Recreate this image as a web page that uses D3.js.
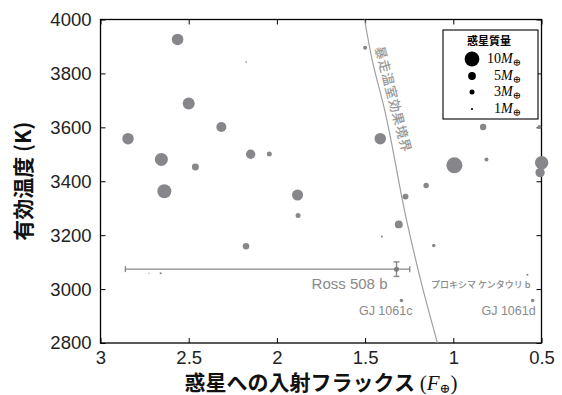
<!DOCTYPE html>
<html>
<head>
<meta charset="utf-8">
<script src="https://cdn.jsdelivr.net/npm/d3@7"></script>
<style>
  html, body { margin: 0; padding: 0; background: #fff; }
  svg { display: block; }
</style>
</head>
<body>
<div id="chart"></div>
<script>
// Planet data
const flux = [2.563, 2.174, 1.50, 2.50, 2.315, 2.844, 2.655, 2.462, 2.149, 2.043,
              2.638, 1.883, 1.880, 1.414, 0.831, 0.512, 0.994, 0.812, 0.499, 0.508,
              1.154, 1.271, 1.309, 1.405, 1.111, 2.175, 2.725, 2.659, 0.580, 1.294, 0.550];
const teff = [3926, 3842, 3895, 3688, 3601, 3558, 3481, 3453, 3500, 3501,
              3363, 3349, 3273, 3558, 3601, 3601, 3459, 3481, 3469, 3432,
              3384, 3343, 3240, 3195, 3162, 3159, 3059, 3059, 3053, 2958, 2958];
const mass = [7.7, 0.6, 2.3, 8.0, 6.6, 7.6, 8.7, 4.4, 6.1, 3.0,
              9.4, 7.3, 3.0, 7.6, 4.0, 2.3, 10.9, 2.3, 9.0, 6.1,
              3.3, 3.7, 5.1, 0.9, 1.9, 4.1, 0.3, 0.9, 0.9, 1.9, 1.9];

// Ross 508 b with error bars
const ross = { flux: 1.322, fluxLo: 2.859, fluxHi: 1.247, teff: 3074, teffErr: 27, mass: 3.0 };

// Runaway greenhouse boundary
const boundaryFlux = [1.503, 1.46, 1.39, 1.266, 1.18, 1.09];
const boundaryTeff = [4000, 3850, 3667, 3259, 3020, 2800];

const xTicks = [3, 2.5, 2, 1.5, 1, 0.5];
const yTicks = [2800, 3000, 3200, 3400, 3600, 3800, 4000];
const legendMass = [10, 5, 3, 1];

const labels = [
  { text: 'Ross 508 b', flux: 1.322, teff: 3074, dx: -9, dy: 20, size: 15 },
  { text: 'GJ 1061c', flux: 1.294, teff: 2958, dx: 11, dy: 15, size: 12.5 },
  { text: 'GJ 1061d', flux: 0.550, teff: 2958, dx: 3, dy: 15, size: 12.5 },
  { text: 'プロキシマ ケンタウリ b', flux: 0.580, teff: 3053, dx: 3, dy: 13, size: 9 }
];

const W = 562, H = 395;
const plotLeft = 100.5, plotRight = 541.5, plotTop = 19.5, plotBottom = 343;
const POINT = '#87878b';
const ANNOT = '#8a8a8a';

const svg = d3.select('#chart').append('svg')
  .attr('width', W).attr('height', H);

const x = d3.scaleLinear().domain([3, 0.5]).range([plotLeft, plotRight]);
const y = d3.scaleLinear().domain([2800, 4000]).range([plotBottom, plotTop]);
const r = d3.scaleLinear().domain([0, 10]).range([0.4, 7.4]);

// Axes with inward ticks on all four sides
const tickFont = '"Liberation Sans", Arial, sans-serif';
const cjk = '"Noto Sans CJK JP", sans-serif';
function styleAxis(g) {
  g.select('.domain').remove();
  g.selectAll('line').attr('stroke', '#000').attr('stroke-width', 1);
}
svg.append('g').attr('transform', `translate(0,${plotBottom})`)
  .call(d3.axisBottom(x).tickValues(xTicks).tickSizeInner(-5).tickSizeOuter(0).tickPadding(8).tickFormat(d3.format('')))
  .call(styleAxis)
  .selectAll('text').attr('font-size', '18.5px').attr('font-family', tickFont).attr('fill', '#222');
svg.append('g').attr('transform', `translate(0,${plotTop})`)
  .call(d3.axisTop(x).tickValues(xTicks).tickSizeInner(-5).tickSizeOuter(0).tickFormat(''))
  .call(styleAxis);
svg.append('g').attr('transform', `translate(${plotLeft},0)`)
  .call(d3.axisLeft(y).tickValues(yTicks).tickSizeInner(-5).tickSizeOuter(0).tickPadding(9).tickFormat(d3.format('d')))
  .call(styleAxis)
  .selectAll('text').attr('font-size', '18.5px').attr('font-family', tickFont).attr('fill', '#222');
svg.append('g').attr('transform', `translate(${plotRight},0)`)
  .call(d3.axisRight(y).tickValues(yTicks).tickSizeInner(-5).tickSizeOuter(0).tickFormat(''))
  .call(styleAxis);

svg.append('rect')
  .attr('x', plotLeft).attr('y', plotTop)
  .attr('width', plotRight - plotLeft).attr('height', plotBottom - plotTop)
  .attr('fill', 'none').attr('stroke', '#000').attr('stroke-width', 1.3);

// Boundary line
const bpts = boundaryFlux.map((f, i) => [f, boundaryTeff[i]]);
svg.append('path')
  .datum(bpts)
  .attr('fill', 'none')
  .attr('stroke', '#a0a0a0')
  .attr('stroke-width', 1.2)
  .attr('d', d3.line().x(d => x(d[0])).y(d => y(d[1])).curve(d3.curveMonotoneY));

// Boundary label, rotated along the line
const p0 = [x(boundaryFlux[0]), y(boundaryTeff[0])];
const p1 = [x(boundaryFlux[boundaryFlux.length - 1]), y(boundaryTeff[boundaryTeff.length - 1])];
const ang = Math.atan2(p1[1] - p0[1], p1[0] - p0[0]) * 180 / Math.PI - 2;
const lx = x(1.468) + 4, ly = y(3895);
svg.append('text')
  .attr('transform', `translate(${lx},${ly}) rotate(${ang})`)
  .attr('font-family', cjk)
  .attr('font-size', '13px')
  .attr('font-weight', 500)
  .attr('letter-spacing', '0.6px')
  .attr('fill', '#999')
  .text('暴走温室効果境界');

// Planets
svg.append('g').selectAll('circle')
  .data(flux.map((f, i) => ({ f, t: teff[i], m: mass[i] })))
  .join('circle')
  .attr('cx', d => x(d.f))
  .attr('cy', d => y(d.t))
  .attr('r', d => r(d.m))
  .attr('fill', POINT);

// Ross 508 b with error bars
const eb = svg.append('g').attr('stroke', '#8a8a8a').attr('stroke-width', 1.4);
eb.append('line')
  .attr('x1', x(ross.fluxLo)).attr('x2', x(ross.fluxHi))
  .attr('y1', y(ross.teff)).attr('y2', y(ross.teff));
eb.append('line')
  .attr('x1', x(ross.flux)).attr('x2', x(ross.flux))
  .attr('y1', y(ross.teff - ross.teffErr)).attr('y2', y(ross.teff + ross.teffErr));
[ross.fluxLo, ross.fluxHi].forEach(f => {
  eb.append('line')
    .attr('x1', x(f)).attr('x2', x(f))
    .attr('y1', y(ross.teff) - 3).attr('y2', y(ross.teff) + 3);
});
[ross.teff - ross.teffErr, ross.teff + ross.teffErr].forEach(t => {
  eb.append('line')
    .attr('x1', x(ross.flux) - 3).attr('x2', x(ross.flux) + 3)
    .attr('y1', y(t)).attr('y2', y(t));
});
svg.append('circle')
  .attr('cx', x(ross.flux)).attr('cy', y(ross.teff))
  .attr('r', r(ross.mass)).attr('fill', '#7d7d7d');

// Planet labels
labels.forEach(l => {
  const jp = l.text.startsWith('プ');
  svg.append('text')
    .attr('x', x(l.flux) + l.dx)
    .attr('y', y(l.teff) + l.dy)
    .attr('text-anchor', 'end')
    .attr('font-family', jp ? cjk : tickFont)
    .attr('font-weight', jp ? 500 : 400)
    .attr('font-size', l.size + 'px')
    .attr('fill', ANNOT)
    .text(l.text);
});

// Legend
const legend = svg.append('g');
legend.append('rect')
  .attr('x', 443).attr('y', 30).attr('width', 95).attr('height', 89)
  .attr('fill', '#fff').attr('stroke', '#000').attr('stroke-width', 1.1);
legend.append('text')
  .attr('x', 489).attr('y', 45)
  .attr('text-anchor', 'middle')
  .attr('font-family', cjk)
  .attr('font-weight', 'bold')
  .attr('font-size', '11px')
  .text('惑星質量');
const serif = '"Liberation Serif", "DejaVu Serif", serif';
const legendY = [59, 76, 92, 109];
legendMass.forEach((m, i) => {
  legend.append('circle').attr('cx', 472).attr('cy', legendY[i]).attr('r', r(m)).attr('fill', '#000');
  const t = legend.append('text')
    .attr('x', 521).attr('y', legendY[i] + 4)
    .attr('text-anchor', 'end')
    .attr('font-family', serif)
    .attr('font-size', '14px');
  t.append('tspan').text(m);
  t.append('tspan').attr('font-style', 'italic').text('M');
  t.append('tspan').attr('font-size', '10px').attr('dy', 3).text('⊕');
});

// Axis titles
svg.append('text')
  .attr('transform', `translate(31,${(plotTop + plotBottom) / 2}) rotate(-90)`)
  .attr('text-anchor', 'middle')
  .attr('font-family', cjk)
  .attr('font-weight', 'bold')
  .attr('font-size', '21px')
  .attr('fill', '#111')
  .text('有効温度 (K)');

const xl = svg.append('text')
  .attr('x', (plotLeft + plotRight) / 2).attr('y', 390)
  .attr('text-anchor', 'middle')
  .attr('fill', '#111');
xl.append('tspan')
  .attr('font-family', cjk)
  .attr('font-weight', 'bold')
  .attr('font-size', '21px')
  .text('惑星への入射フラックス ');
xl.append('tspan').attr('font-family', serif).attr('font-size', '21px').text('(');
xl.append('tspan').attr('font-family', serif).attr('font-size', '21px').attr('font-style', 'italic').text('F');
xl.append('tspan').attr('font-family', serif).attr('font-size', '13px').attr('dy', 3).text('⊕');
xl.append('tspan').attr('font-family', serif).attr('font-size', '21px').attr('dy', -3).text(')');
</script>
</body>
</html>
